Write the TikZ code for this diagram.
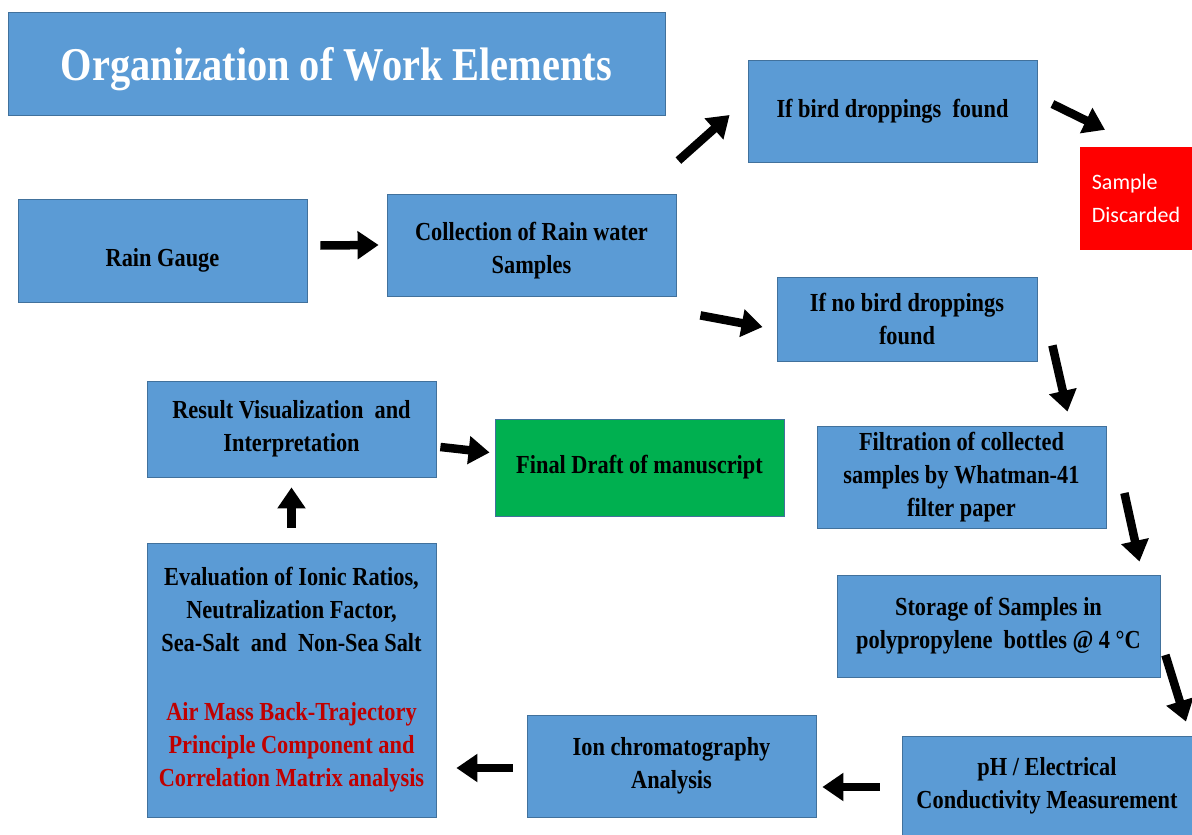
\documentclass[tikz,border=0pt]{standalone}
\usepackage{fontspec}
\setmainfont{Liberation Serif}[FakeStretch=0.86]
\newfontfamily\calib{Carlito}
\usetikzlibrary{arrows.meta,calc}
\definecolor{boxblue}{HTML}{5B9BD5}
\definecolor{boxedge}{HTML}{41719C}
\definecolor{dgreen}{HTML}{00B050}
\definecolor{dred}{HTML}{C00000}
\begin{document}
\begin{tikzpicture}[x=1pt,y=-1pt,
  box/.style={rectangle, fill=boxblue, draw=boxedge, line width=0.8pt, align=center,
    inner sep=0pt, font=\fontsize{26}{33}\selectfont\bfseries},
  blk/.style={line width=8.5pt, -{Triangle[length=21pt,width=27pt]}, black}]
\useasboundingbox (0,0) rectangle (1192,835);

\node[box, minimum width=657pt, minimum height=103pt, text=white, text height=44pt,
  font=\fontsize{47}{50}\selectfont\bfseries] (title) at (336.5,63.5) {Organization of Work Elements};
\node[box, minimum width=289pt, minimum height=102pt] (bird) at (892.5,111) {If bird droppings\ \ found};
\node[rectangle, fill=red, inner sep=0pt, minimum width=112pt, minimum height=103pt, text=white,
  align=left, font=\calib\fontsize{22}{33}\selectfont] (disc) at (1136,198.5) {Sample\\Discarded};
\node[box, minimum width=289pt, minimum height=103pt, text height=38pt] (rain) at (162.5,250.5) {Rain Gauge};
\node[box, minimum width=289pt, minimum height=102pt] (coll) at (531.5,245) {\rule{0pt}{30pt}Collection of Rain water\\Samples};
\node[box, minimum width=260pt, minimum height=84pt] (nobird) at (907,319) {If no bird droppings\\found};
\node[box, minimum width=289pt, minimum height=96pt] (result) at (291.5,429) {Result Visualization\ \ and\\Interpretation};
\node[box, fill=dgreen, minimum width=289pt, minimum height=97pt] (final) at (639.5,467.5) {Final Draft of manuscript};
\node[box, minimum width=289pt, minimum height=102pt] (filt) at (961.5,477) {Filtration of collected\\samples by Whatman-41\\filter paper};
\node[box, minimum width=323pt, minimum height=102pt] (stor) at (998.5,626) {Storage of Samples in\\polypropylene\ \ bottles @ 4 \textdegree C};
\node[box, minimum width=289pt, minimum height=274pt] (eval) at (291.5,680) {Evaluation of Ionic Ratios,\\Neutralization Factor,\\Sea-Salt\ \ and\ \ Non-Sea Salt\\[36pt]
  \textcolor{dred}{Air Mass Back-Trajectory}\\\textcolor{dred}{Principle Component\ and}\\\textcolor{dred}{Correlation Matrix analysis}};
\node[box, minimum width=289pt, minimum height=102pt] (ion) at (671.5,766) {Ion chromatography\\Analysis};
\node[box, minimum width=290pt, minimum height=100pt] (ph) at (1047,786) {pH / Electrical\\Conductivity Measurement};

% arrows
\draw[blk] ($(rain.east)+(13,-5)$) -- ($(coll.west)+(-8,0)$);
\draw[blk] ($(coll.north east)+(2,-33)$) -- ($(bird.west)+(-18,4)$);
\draw[blk] ($(bird.east)+(15,-7)$) -- ($(disc.north)+(-31,-17)$);
\draw[blk] ($(coll.south east)+(24,19)$) -- ($(nobird.west)+(-14,8)$);
\draw[blk] ($(nobird.south east)+(15,-16)$) -- ($(filt.north)+(106,-14)$);
\draw[blk] ($(filt.east)+(18,16)$) -- ($(stor.north)+(141,-13)$);
\draw[blk] ($(stor.east)+(5,29)$) -- ($(ph.north)+(139,-14)$);
\draw[blk] ($(ph.west)+(-22,1)$) -- ($(ion.east)+(6,21)$);
\draw[blk] ($(ion.west)+(-14,2)$) -- ($(eval.east)+(20,88)$);
\draw[blk] ($(eval.north)+(0,-15)$) -- ($(result.south)+(0,10)$);
\draw[blk] ($(result.east)+(4,18)$) -- ($(final.west)+(-5,-15)$);
\end{tikzpicture}
\end{document}
